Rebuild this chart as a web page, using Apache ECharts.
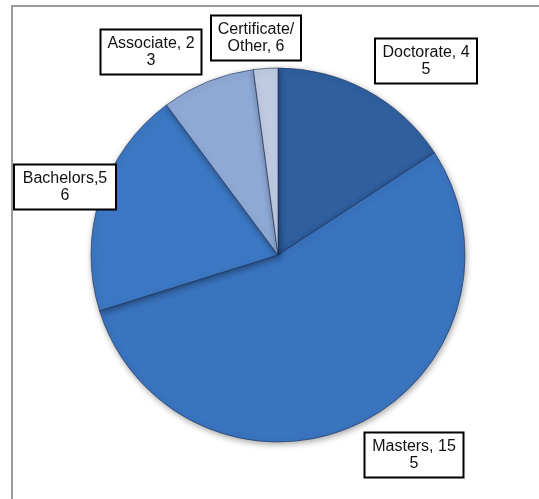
<!DOCTYPE html>
<html>
<head>
<meta charset="utf-8">
<script src="https://cdn.jsdelivr.net/npm/echarts@6/dist/echarts.min.js"></script>
<style>
html,body{margin:0;padding:0;background:#fff;}
#chart{width:539px;height:499px;}
</style>
</head>
<body>
<div id="chart"></div>
<script>
const categories = ['Doctorate', 'Masters', 'Bachelors', 'Associate', 'Certificate/\nOther'];
const values = [45, 155, 56, 23, 6];
const labelTexts = ['Doctorate, 4\n5', 'Masters, 15\n5', 'Bachelors,5\n6', 'Associate, 2\n3', 'Certificate/\nOther, 6'];
const colors = ['#2F5F9F', '#3A73BE', '#3C77C3', '#8FA9D6', '#C0CBE3'];
const labelCenters = [[426, 61], [414, 455], [65, 187], [151, 52], [256, 38]];
const labelWidths = [92, 89, 92, 91, 80];

const chart = echarts.init(document.getElementById('chart'));
chart.setOption({
  backgroundColor: '#ffffff',
  animation: false,
  graphic: [
    { type: 'line', shape: { x1: 11, y1: 6, x2: 539, y2: 6 }, style: { stroke: '#9a9a9a', lineWidth: 2 } },
    { type: 'line', shape: { x1: 12, y1: 5, x2: 12, y2: 499 }, style: { stroke: '#9a9a9a', lineWidth: 2 } }
  ],
  series: [{
    type: 'pie',
    center: [278, 255],
    radius: 187,
    startAngle: 90,
    clockwise: true,
    data: categories.map((c, i) => ({
      name: c,
      value: values[i],
      itemStyle: { color: colors[i] },
      label: {
        formatter: labelTexts[i].split('\n').map(l => '{t|' + l + '}').join('\n'),
        rich: { t: { width: labelWidths[i], align: 'center', fontSize: 16, lineHeight: 17, color: '#111', fontFamily: 'Liberation Sans, Arial, sans-serif' } }
      }
    })),
    itemStyle: {
      borderColor: 'rgba(25,45,85,0.6)',
      borderWidth: 1,
      shadowBlur: 6,
      shadowColor: 'rgba(0,0,0,0.35)',
      shadowOffsetX: 1,
      shadowOffsetY: 2
    },
    label: {
      show: true,
      position: 'inside',
      fontFamily: 'Liberation Sans, Arial, sans-serif',
      fontSize: 16,
      lineHeight: 17,
      color: '#111',
      backgroundColor: '#fff',
      borderColor: '#000',
      borderWidth: 2,
      padding: [5, 4, 4, 4],
      overflow: 'none'
    },
    labelLine: { show: false },
    labelLayout: function (params) {
      const p = labelCenters[params.dataIndex];
      return { x: p[0], y: p[1], align: 'center', verticalAlign: 'middle', hideOverlap: false };
    },
    emphasis: { disabled: true }
  }]
});
</script>
</body>
</html>
